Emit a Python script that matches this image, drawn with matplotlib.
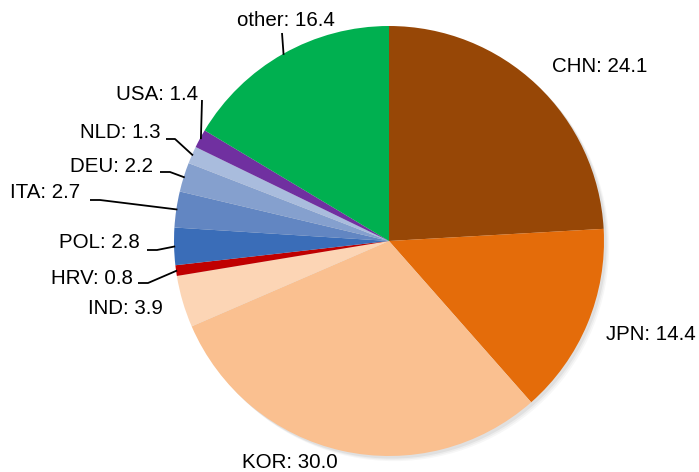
import numpy as np
import matplotlib.pyplot as plt

plt.rcParams["font.family"] = ["Liberation Sans", "DejaVu Sans"]

countries = ["CHN", "JPN", "KOR", "IND", "HRV", "POL", "ITA", "DEU", "NLD", "USA", "other"]
shares = [24.1, 14.4, 30.0, 3.9, 0.8, 2.8, 2.7, 2.2, 1.3, 1.4, 16.4]
colors = ["#974706", "#E46C0A", "#FAC090", "#FCD5B5", "#C00000",
          "#3A6DB8", "#6286C2", "#85A0CE", "#A9BCDD", "#7030A0", "#00B050"]

# pixel layout of the reference image
W, H = 699, 472
CX, CY, R = 389, 241, 215

# label anchor (px, py, ha) and elbow of leader line (None = no line)
label_pos = {
    "CHN": (552, 66, "left"),
    "JPN": (606, 335, "left"),
    "KOR": (290, 462, "center"),
    "IND": (163, 309, "right"),
    "HRV": (133, 278, "right"),
    "POL": (140, 243, "right"),
    "ITA": (80, 193, "right"),
    "DEU": (153, 167, "right"),
    "NLD": (160, 132, "right"),
    "USA": (198, 94, "right"),
    "other": (286, 21, "center"),
}
leader_pts = {
    "HRV": [(138, 283), (148, 283)],
    "POL": [(147, 250), (157, 250)],
    "ITA": [(90, 200), (100, 200)],
    "DEU": [(160, 172), (170, 172)],
    "NLD": [(166, 139), (175, 139)],
    "USA": [(202, 100)],
    "other": [(282, 33)],
}


def to_data(px, py):
    return (px - CX) / R, (CY - py) / R


fig = plt.figure(figsize=(W / 100, H / 100), dpi=100)
ax = fig.add_axes([0, 0, 1, 1])

# soft shadow
for i, a in enumerate([0.05, 0.04, 0.03]):
    sh = plt.Circle((0.012 + 0.006 * i, -0.012 - 0.006 * i), 1.0, color="black", alpha=a, lw=0)
    ax.add_patch(sh)

wedges, _ = ax.pie(shares, colors=colors, startangle=90, counterclock=False,
                   radius=1.0, center=(0, 0), frame=True,
                   wedgeprops=dict(linewidth=0))
ax.set_xlim((0 - CX) / R, (W - CX) / R)
ax.set_ylim((CY - H) / R, CY / R)
ax.set_aspect("equal")
ax.axis("off")

for w, name, val in zip(wedges, countries, shares):
    px, py, ha = label_pos[name]
    x, y = to_data(px, py)
    ax.text(x, y, f"{name}: {val:.1f}", ha=ha, va="center", fontsize=14.8, color="#000000")
    if name in leader_pts:
        mid = np.deg2rad((w.theta1 + w.theta2) / 2)
        pts = [to_data(*p) for p in leader_pts[name]]
        pts.append((np.cos(mid) * 0.995, np.sin(mid) * 0.995))
        xs, ys = zip(*pts)
        ax.plot(xs, ys, color="black", lw=1.3, solid_capstyle="butt")

fig.savefig("out.png", dpi=100)
